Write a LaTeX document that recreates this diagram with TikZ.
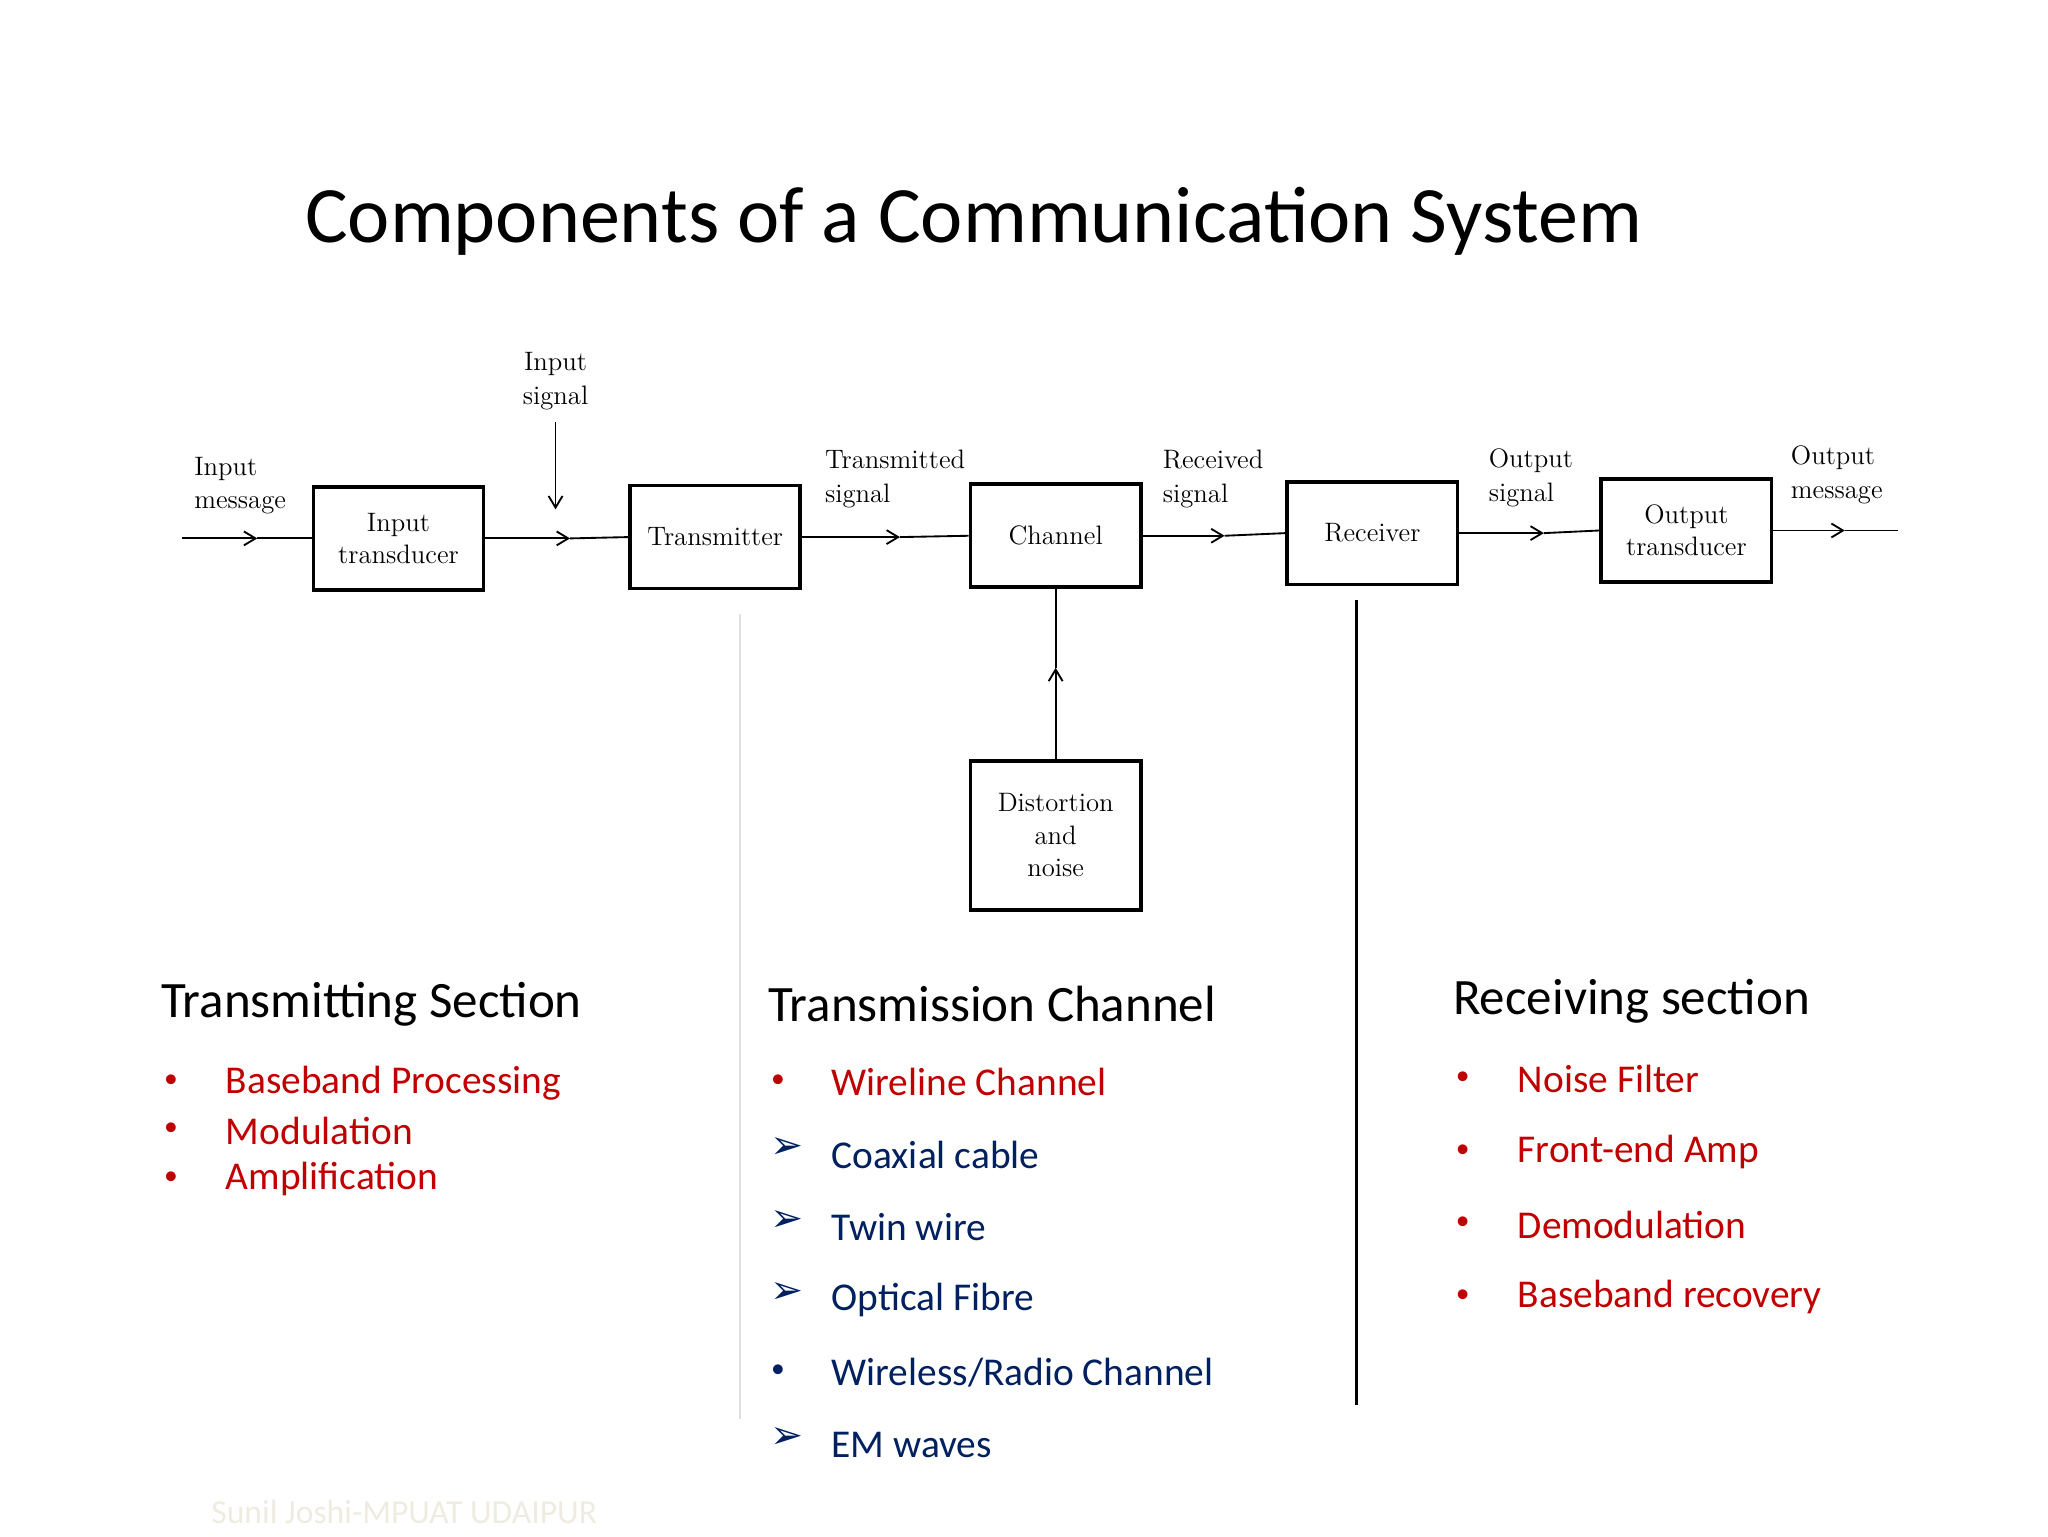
\documentclass[tikz,border=0pt]{standalone}
\usepackage{fontspec}
\setmainfont{Latin Modern Roman}
\newfontfamily\slidefont{Carlito}
\newfontfamily\symfont{DejaVu Sans}
\usetikzlibrary{arrows.meta}
\definecolor{itemred}{RGB}{192,0,0}
\definecolor{itemblue}{RGB}{0,32,96}
\definecolor{footgray}{RGB}{238,236,225}
\tikzset{
  blk/.style={draw, line width=1.6pt, minimum width=2.58cm, minimum height=1.56cm, align=center, font=\fontsize{11.5}{14}\selectfont},
  lbl/.style={align=left, anchor=west, font=\fontsize{11.5}{14.5}\selectfont},
  sig/.style={line width=0.8pt, -{Straight Barb[length=5pt,width=6pt]}},
  head/.style={anchor=west, font=\slidefont\fontsize{22}{26}\selectfont},
  itm/.style={anchor=west, font=\slidefont\fontsize{17}{20}\selectfont}
}
\begin{document}
\begin{tikzpicture}[x=0.02cm, y=-0.02cm]
  \useasboundingbox (0,0) rectangle (1552,1164);
  \node[font=\slidefont\fontsize{34.5}{40}\selectfont] (title) at (738,168) {Components of a Communication System};

  % blocks
  \node[blk] (itr) at (302,408) {Input\\transducer};
  \node[blk] (tx) at (542,407) {Transmitter};
  \node[blk] (ch) at (800,406) {Channel};
  \node[blk] (rx) at (1040,404) {Receiver};
  \node[blk] (otr) at (1278,402) {Output\\transducer};
  \node[blk, minimum height=2.26cm] (dn) at (800,633) {Distortion\\and\\noise};

  % signal lines
  \coordinate (start) at (138,408);
  \coordinate (stop) at (1438,402);
  \coordinate (m1) at (195,408);
  \coordinate (m2) at (432,408);
  \coordinate (m3) at (682,407);
  \coordinate (m4) at (928,406);
  \coordinate (m5) at (1170,404);
  \coordinate (m6) at (1398,402);
  \draw[sig] (start) -- (m1); \draw[line width=0.8pt] (m1) -- (itr.west);
  \draw[sig] (itr.east) -- (m2); \draw[line width=0.8pt] (m2) -- (tx.west);
  \draw[sig] (tx.east) -- (m3); \draw[line width=0.8pt] (m3) -- (ch.west);
  \draw[sig] (ch.east) -- (m4); \draw[line width=0.8pt] (m4) -- (rx.west);
  \draw[sig] (rx.east) -- (m5); \draw[line width=0.8pt] (m5) -- (otr.west);
  \draw[sig] (otr.east) -- (m6); \draw[line width=0.8pt] (m6) -- (stop);
  \coordinate (insrc) at (421,320);
  \coordinate (intip) at (421,386);
  \draw[sig] (insrc) -- (intip);
  \coordinate (nmid) at (800,506);
  \draw[sig] (dn.north) -- (nmid); \draw[line width=0.8pt] (nmid) -- (ch.south);

  % signal labels
  \node[lbl] (lim) at (141,368) {Input\\message};
  \node[align=center, font=\fontsize{11.5}{14.5}\selectfont] (lis) at (421,289) {Input\\signal};
  \node[lbl] (lts) at (619,363) {Transmitted\\signal};
  \node[lbl] (lrs) at (875,363) {Received\\signal};
  \node[lbl] (los) at (1122,362) {Output\\signal};
  \node[lbl] (lom) at (1351,360) {Output\\message};

  % section dividers
  \coordinate (d1a) at (561,465); \coordinate (d1b) at (561,1075);
  \coordinate (d2a) at (1028,455); \coordinate (d2b) at (1028,1065);
  \draw[black!12, line width=0.8pt] (d1a) -- (d1b);
  \draw[line width=1.4pt] (d2a) -- (d2b);

  % transmitting section
  \node[head] (hts) at (116,761) {Transmitting Section};
  \foreach \t [count=\i] in {Baseband Processing, Modulation, Amplification}{
    \node[itm, itemred, scale=0.7] (tb\i) at (120,783+36.5*\i) {\textbullet};
    \node[itm, itemred] (ts\i) at (165,784+36.5*\i) {\t};
  }

  % transmission channel
  \node[head] (htc) at (576,761) {Transmission Channel};
  \node[itm, itemred, scale=0.7] (cb1) at (580,819) {\textbullet};
  \node[itm, itemred] (cs1) at (624,820) {Wireline Channel};
  \foreach \t/\y in {Coaxial cable/875, Twin wire/930, Optical Fibre/985}{
    \node[itm, itemblue] at (578,\y-5) {\symfont ➢};
    \node[itm, itemblue] at (624,\y) {\t};
  }
  \node[itm, itemblue, scale=0.7] (cb5) at (580,1039) {\textbullet};
  \node[itm, itemblue] (cs5) at (624,1040) {Wireless/Radio Channel};
  \node[itm, itemblue] (ca6) at (578,1090) {\symfont ➢};
  \node[itm, itemblue] (cs6) at (624,1095) {EM waves};

  % receiving section
  \node[head] (hrs) at (1095,759) {Receiving section};
  \foreach \t [count=\i] in {Noise Filter, Front-end Amp, Demodulation, Baseband recovery}{
    \node[itm, itemred, scale=0.7] (rb\i) at (1099,762+55*\i) {\textbullet};
    \node[itm, itemred] (rs\i) at (1144,763+55*\i) {\t};
  }

  \node[anchor=west, footgray, font=\slidefont\fontsize{14.5}{16}\selectfont] (foot) at (154,1146) {Sunil Joshi-MPUAT UDAIPUR};
\end{tikzpicture}
\end{document}
